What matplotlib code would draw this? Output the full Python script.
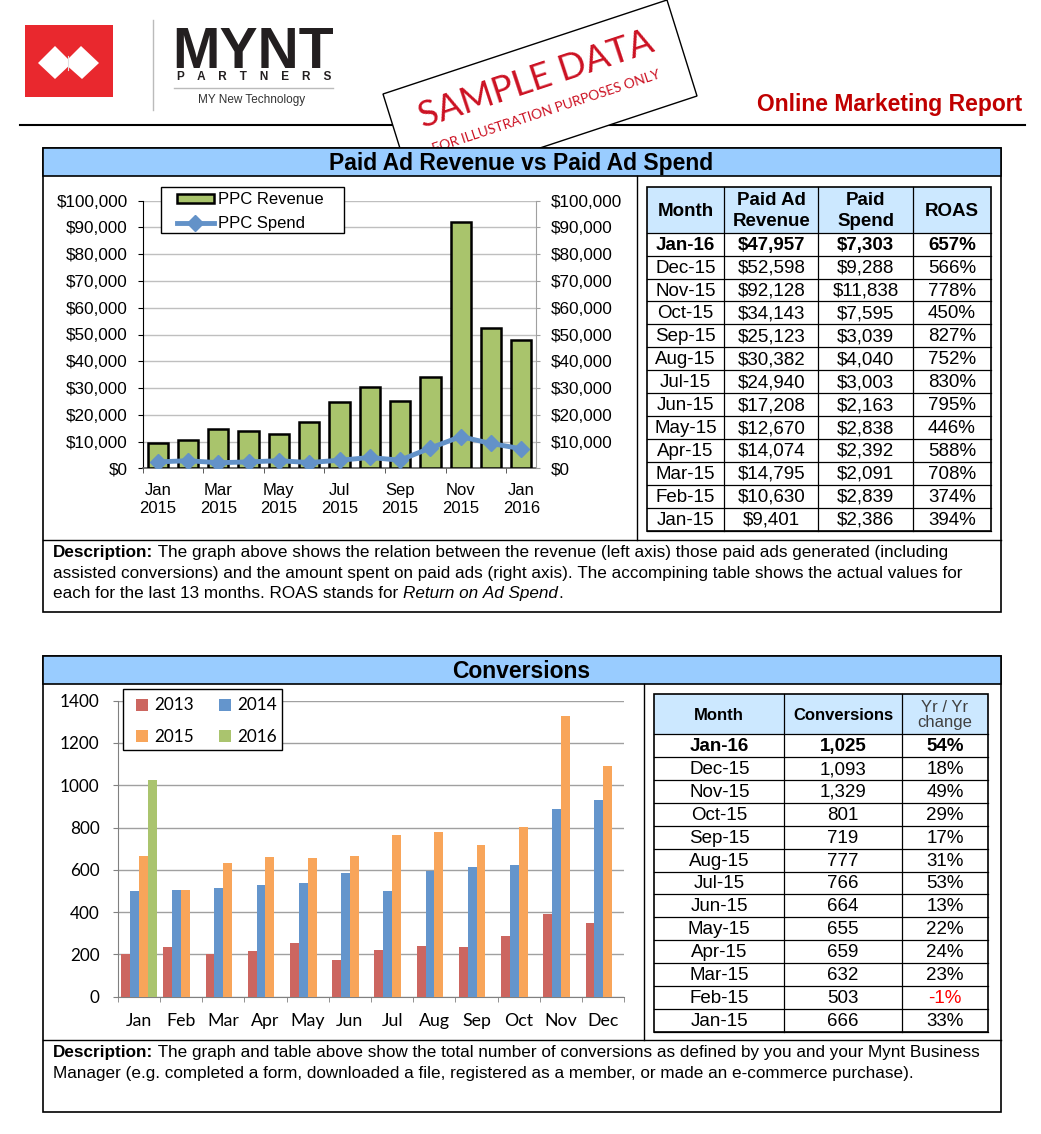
import matplotlib
matplotlib.use("Agg")
import matplotlib.pyplot as plt
import numpy as np
from matplotlib.patches import Rectangle, Polygon, Patch
from matplotlib.lines import Line2D
from matplotlib.ticker import FuncFormatter

plt.rcParams['font.family'] = ['Liberation Sans', 'DejaVu Sans']

W, H = 1041, 1134

# ---- data ----
months = ['Jan', 'Feb', 'Mar', 'Apr', 'May', 'Jun', 'Jul', 'Aug', 'Sep', 'Oct', 'Nov', 'Dec']
ppc_months = ['Jan-15', 'Feb-15', 'Mar-15', 'Apr-15', 'May-15', 'Jun-15', 'Jul-15',
              'Aug-15', 'Sep-15', 'Oct-15', 'Nov-15', 'Dec-15', 'Jan-16']
ppc_revenue = [9401, 10630, 14795, 14074, 12670, 17208, 24940, 30382, 25123, 34143, 92128, 52598, 47957]
ppc_spend = [2386, 2839, 2091, 2392, 2838, 2163, 3003, 4040, 3039, 7595, 11838, 9288, 7303]
roas = [394, 374, 708, 588, 446, 795, 830, 752, 827, 450, 778, 566, 657]
ppc_ticklabels = ['Jan\n2015', 'Mar\n2015', 'May\n2015', 'Jul\n2015', 'Sep\n2015', 'Nov\n2015', 'Jan\n2016']

conv_2013 = [200, 233, 202, 214, 252, 172, 219, 240, 233, 287, 393, 349]
conv_2014 = [500, 506, 513, 530, 539, 587, 500, 593, 612, 621, 888, 929]
conv_2015 = [666, 503, 632, 659, 655, 664, 766, 777, 719, 801, 1329, 1093]
conv_2016 = [1025]
conv_last13 = conv_2015 + conv_2016
yoy_change = [33, -1, 23, 24, 22, 13, 53, 31, 17, 29, 49, 18, 54]

desc1 = [
    [('Description:', 'bold', 'normal'), (' The graph above shows the relation between the revenue (left axis) those paid ads generated (including', 'normal', 'normal')],
    [('assisted conversions) and the amount spent on paid ads (right axis). The accompining table shows the actual values for', 'normal', 'normal')],
    [('each for the last 13 months. ROAS stands for ', 'normal', 'normal'), ('Return on Ad Spend', 'normal', 'italic'), ('.', 'normal', 'normal')],
]
desc2 = [
    [('Description:', 'bold', 'normal'), (' The graph and table above show the total number of conversions as defined by you and your Mynt Business', 'normal', 'normal')],
    [('Manager (e.g. completed a form, downloaded a file, registered as a member, or made an e-commerce purchase).', 'normal', 'normal')],
]

green = '#A9C46C'
blue_line = '#6392C8'
c2013, c2014, c2015, c2016 = '#CC6660', '#6495CC', '#F8A55A', '#AAC46E'


def fig_rect(x0, y0, x1, y1):
    return [x0 / W, 1 - y1 / H, (x1 - x0) / W, (y1 - y0) / H]


fig = plt.figure(figsize=(W / 100, H / 100), dpi=100)
renderer = fig.canvas.get_renderer()

bg = fig.add_axes([0, 0, 1, 1])
bg.set_xlim(0, W)
bg.set_ylim(H, 0)
bg.axis('off')

# ---- page header ----
bg.add_patch(Rectangle((25, 25), 88, 72, fc='#E9282E', ec='none'))
bg.add_patch(Polygon([(38, 63), (55, 46), (72, 63), (55, 79)], fc='white', ec='none'))
bg.add_patch(Polygon([(64, 63), (81, 46), (99, 63), (82, 79)], fc='white', ec='none'))
bg.plot([68, 68], [56, 70], color='#E0E0E0', lw=0.8)
bg.plot([152.7, 152.7], [20, 110], color='#BBBBBB', lw=1)
bg.text(172, 68.3, 'MYNT', fontsize=41, fontweight='bold', color='#231F20', va='baseline', ha='left')
bg.text(254, 77.5, '    '.join('PARTNERS'), fontsize=8.5, fontweight='bold', color='#231F20',
        ha='center', va='center')
bg.plot([174, 333], [88.3, 88.3], color='#BBBBBB', lw=1)
bg.text(252, 100, 'MY New Technology', fontsize=8.5, color='#333333', ha='center', va='center')
bg.plot([20, 1025], [125, 125], color='black', lw=1.5)
bg.text(1022, 104, 'Online Marketing Report', fontsize=16.5, fontweight='bold', color='#C00000',
        ha='right', va='center')

# sample data stamp
bg.add_patch(Polygon([(383, 94), (667, 0), (697, 96), (413, 190)], fc='white', ec='black', lw=1, zorder=2))
bg.text(536, 80, 'SAMPLE DATA', fontsize=26, color='#CC1122', family='Lato', rotation=18.3,
        ha='center', va='center', rotation_mode='anchor', zorder=3)
bg.text(546, 112, 'FOR ILLUSTRATION PURPOSES ONLY', fontsize=10, color='#CC1122', family='Lato', rotation=18.3,
        ha='center', va='center', rotation_mode='anchor', zorder=3)


def panel(top, head, bottom, split_x, split_y, title):
    bg.add_patch(Rectangle((42.7, top), 1001 - 42.7, bottom - top, fc='white', ec='black', lw=1.2, zorder=4))
    bg.add_patch(Rectangle((42.7, top), 1001 - 42.7, head - top, fc='#99CCFF', ec='black', lw=1.2, zorder=5))
    bg.plot([split_x, split_x], [head, split_y], color='black', lw=1, zorder=6)
    bg.plot([42.7, 1001], [split_y, split_y], color='black', lw=1, zorder=6)
    bg.text(521.5, (top + head) / 2 + 1, title, fontsize=16.5, fontweight='bold', ha='center', va='center', zorder=7)


def rich_lines(x, y0, step, lines, size):
    for k, parts in enumerate(lines):
        xx = x
        for s, weight, style in parts:
            t = bg.text(xx, y0 + k * step, s.replace(' ', '\u00a0'), fontsize=size, fontweight=weight,
                        fontstyle=style, ha='left', va='center', zorder=7)
            xx += t.get_window_extent(renderer).width


panel(148.3, 176, 612, 636.7, 540, 'Paid Ad Revenue vs Paid Ad Spend')
panel(656, 684, 1112, 644, 1040, 'Conversions')
rich_lines(53, 553, 20.3, desc1, 12.3)
rich_lines(53, 1053, 20.5, desc2, 12.3)


def table(cols, top, head, bottom, headers, rows, head_fs):
    bg.add_patch(Rectangle((cols[0], top), cols[-1] - cols[0], head - top, fc='#CCE8FF', ec='none', zorder=6))
    n = len(rows)
    rh = (bottom - head) / n
    for hx, (txt, kw) in enumerate(headers):
        bg.text((cols[hx] + cols[hx + 1]) / 2, (top + head) / 2 + 1, txt, fontsize=head_fs, ha='center',
                va='center', zorder=8, **kw)
    for r, cells in enumerate(rows):
        yc = head + (r + 0.5) * rh + 1
        for c, (txt, kw) in enumerate(cells):
            bg.text((cols[c] + cols[c + 1]) / 2, yc, txt, fontsize=13.5, ha='center', va='center', zorder=8, **kw)
        bg.plot([cols[0], cols[-1]], [head + (r + 1) * rh] * 2, color='black', lw=0.9, zorder=7)
    bg.plot([cols[0], cols[-1]], [head, head], color='black', lw=0.9, zorder=7)
    for cx in cols[1:-1]:
        bg.plot([cx, cx], [top, bottom], color='black', lw=0.9, zorder=7)
    bg.add_patch(Rectangle((cols[0], top), cols[-1] - cols[0], bottom - top, fill=False, ec='black', lw=1.2, zorder=7))


bold = {'fontweight': 'bold'}
bold2 = {'fontweight': 'bold', 'linespacing': 1.3}
rows1 = []
for r, i in enumerate(range(12, -1, -1)):
    kw = bold if r == 0 else {}
    rows1.append([(ppc_months[i], kw), (f'${ppc_revenue[i]:,}', kw), (f'${ppc_spend[i]:,}', kw), (f'{roas[i]}%', kw)])
table([646.8, 724.2, 818.4, 913.2, 990.6], 187.3, 232.7, 530.7,
      [('Month', bold), ('Paid Ad\nRevenue', bold2), ('Paid\nSpend', bold2), ('ROAS', bold)], rows1, 13.5)

rows2 = []
for r, i in enumerate(range(12, -1, -1)):
    kw = bold if r == 0 else {}
    ckw = dict(kw)
    if yoy_change[i] < 0:
        ckw['color'] = '#FF0000'
    rows2.append([(ppc_months[i], kw), (f'{conv_last13[i]:,}', kw), (f'{yoy_change[i]}%', ckw)])
table([654.3, 784.3, 901.7, 988.3], 694, 734.3, 1031.7,
      [('Month', bold), ('Conversions', bold), ('Yr / Yr\nchange', {'color': '#404040', 'linespacing': 1.05})],
      rows2, 12)

# ---- chart 1: paid ad revenue vs spend ----
money = FuncFormatter(lambda v, p: f'${v:,.0f}')
x = np.arange(len(ppc_revenue))
ax1 = fig.add_axes(fig_rect(142.6, 200.7, 536.4, 468.3))
ax1.set_facecolor('none')
ax1.bar(x, ppc_revenue, width=0.67, color=green, edgecolor='black', linewidth=1.8, zorder=3)
ax1.set_xlim(-0.5, 12.5)
ax1.set_ylim(0, 100000)
ax1.set_yticks(range(0, 100001, 10000))
ax1.yaxis.set_major_formatter(money)
ax1.grid(axis='y', color='#BFBFBF', lw=1)
ax1.set_axisbelow(True)
ax1.set_xticks(x[::2])
ax1.set_xticklabels(ppc_ticklabels, linespacing=1.3)
ax1.set_xticks(np.arange(-0.5, 12, 2), minor=True)
ax1.tick_params(axis='x', which='major', length=0, pad=10.5, labelsize=12)
ax1.tick_params(axis='x', which='minor', length=3.6, color='#404040')
ax1.tick_params(axis='y', length=3.6, pad=7, labelsize=12.3)
for s in ['top', 'right']:
    ax1.spines[s].set_visible(False)
ax1.spines['bottom'].set_color('#606060')
ax1.spines['bottom'].set_linewidth(1.2)

ax2 = ax1.twinx()
ax2.plot(x, ppc_spend, color=blue_line, lw=3.5, marker='D', ms=8, zorder=4)
ax2.set_ylim(0, 100000)
ax2.set_yticks(range(0, 100001, 10000))
ax2.yaxis.set_major_formatter(money)
ax2.tick_params(axis='y', length=3, pad=7.5, labelsize=12.3, color='#A0A0A0')
for s in ['top', 'left', 'bottom']:
    ax2.spines[s].set_visible(False)
ax2.spines['right'].set_color('#A0A0A0')

fig.add_artist(Rectangle((160.5 / W, 1 - 233.3 / H), (344.2 - 160.5) / W, (233.3 - 187) / H,
                         transform=fig.transFigure, fc='white', ec='black', lw=1, zorder=4))
h1 = [Patch(fc=green, ec='black', lw=1.8),
      Line2D([], [], color=blue_line, lw=3.5, marker='D', ms=8)]
fig.legend(h1, ['PPC Revenue', 'PPC Spend'], loc='upper left', bbox_to_anchor=(177 / W, 1 - 192.5 / H),
           frameon=False, borderpad=0, borderaxespad=0, handlelength=2.2, handleheight=0.5,
           handletextpad=0.25, labelspacing=0.5, fontsize=12, numpoints=1)

# ---- chart 2: conversions ----
m = np.arange(12)
bw = 0.21
ax3 = fig.add_axes(fig_rect(117.7, 700.7, 624.4, 996.7))
ax3.set_facecolor('none')
ax3.bar(m - 1.5 * bw, conv_2013, bw, color=c2013, zorder=3)
ax3.bar(m - 0.5 * bw, conv_2014, bw, color=c2014, zorder=3)
ax3.bar(m + 0.5 * bw, conv_2015, bw, color=c2015, zorder=3)
ax3.bar(m[:len(conv_2016)] + 1.5 * bw, conv_2016, bw, color=c2016, zorder=3)
ax3.set_xlim(-0.5, 11.5)
ax3.set_ylim(0, 1400)
ax3.set_yticks(range(0, 1401, 200))
ax3.grid(axis='y', color='#A0A0A0', lw=1)
ax3.set_axisbelow(True)
ax3.set_xticks(m)
ax3.set_xticklabels(months)
ax3.set_xticks(np.arange(-0.5, 12, 1), minor=True)
ax3.tick_params(axis='x', which='major', length=0, pad=11.5, labelsize=12.8)
ax3.tick_params(axis='x', which='minor', length=3.6, color='#808080')
ax3.tick_params(axis='y', length=3.6, pad=9.5, labelsize=12.3, color='#808080')
for lab in ax3.get_xticklabels() + ax3.get_yticklabels():
    lab.set_fontfamily('Lato')
for s in ['top', 'right']:
    ax3.spines[s].set_visible(False)
ax3.spines['left'].set_color('#808080')
ax3.spines['bottom'].set_color('#808080')

fig.add_artist(Rectangle((123.4 / W, 1 - 750.3 / H), (281.5 - 123.4) / W, (750.3 - 689.3) / H,
                         transform=fig.transFigure, fc='white', ec='black', lw=1, zorder=4))
h2 = [Patch(fc=c2013), Patch(fc=c2015), Patch(fc=c2014), Patch(fc=c2016)]
fig.legend(h2, ['2013', '2015', '2014', '2016'], loc='upper left', ncol=2,
           bbox_to_anchor=(136 / W, 1 - 697.5 / H), frameon=False, borderpad=0, borderaxespad=0,
           handlelength=0.7, handleheight=0.7, handletextpad=0.35, labelspacing=0.9,
           columnspacing=1.5, prop={'family': 'Lato', 'size': 12.3})

fig.savefig('out.png', dpi=100)
